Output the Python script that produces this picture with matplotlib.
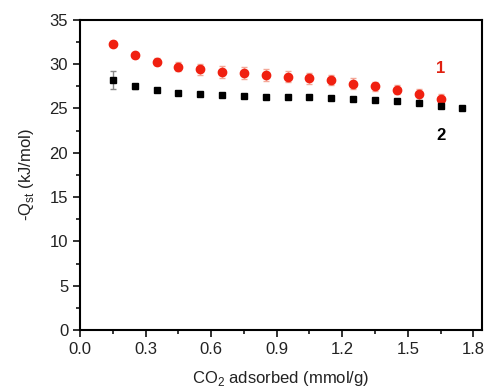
import matplotlib
matplotlib.use("Agg")
import matplotlib.pyplot as plt
from matplotlib.ticker import MultipleLocator

plt.rcParams['font.family'] = ['Liberation Sans', 'DejaVu Sans']
plt.rcParams['mathtext.fontset'] = 'custom'
plt.rcParams['mathtext.rm'] = 'Liberation Sans'

x1 = [0.15, 0.25, 0.35, 0.45, 0.55, 0.65, 0.75, 0.85, 0.95, 1.05, 1.15, 1.25, 1.35, 1.45, 1.55, 1.65]
y1 = [32.3, 31.0, 30.3, 29.7, 29.4, 29.1, 29.0, 28.8, 28.6, 28.4, 28.2, 27.8, 27.5, 27.1, 26.6, 26.05]
e1 = [0.3, 0.3, 0.4, 0.5, 0.6, 0.7, 0.7, 0.7, 0.6, 0.6, 0.6, 0.6, 0.5, 0.5, 0.6, 0.6]

x2 = [0.15, 0.25, 0.35, 0.45, 0.55, 0.65, 0.75, 0.85, 0.95, 1.05, 1.15, 1.25, 1.35, 1.45, 1.55, 1.65, 1.75]
y2 = [28.2, 27.5, 27.1, 26.8, 26.6, 26.5, 26.4, 26.3, 26.3, 26.3, 26.2, 26.1, 26.0, 25.9, 25.6, 25.3, 25.0]
e2 = [1.0, 0.3, 0.2, 0.2, 0.2, 0.2, 0.2, 0.2, 0.2, 0.2, 0.2, 0.2, 0.2, 0.2, 0.2, 0.2, 0.1]

xticks = [0.0, 0.3, 0.6, 0.9, 1.2, 1.5, 1.8]
xticklabels = ['0.0', '0.3', '0.6', '0.9', '1.2', '1.5', '1.8']

fig = plt.figure(figsize=(4.88, 3.90), dpi=100)
ax = fig.add_axes([0.164, 0.154, 0.824, 0.795])

ax.errorbar(x1, y1, yerr=e1, fmt='o', color='#f02010', ecolor='#f4a898',
            markersize=6, elinewidth=1, capsize=2.5, capthick=1)
ax.errorbar(x2, y2, yerr=e2, fmt='s', color='black', ecolor='#888888',
            markersize=5, elinewidth=1, capsize=2.5, capthick=1)

ax.text(1.65, 29.5, '1', color='#e02010', fontsize=12, fontweight='bold',
        ha='center', va='center')
ax.text(1.65, 21.9, '2', color='black', fontsize=12, fontweight='bold',
        ha='center', va='center')

ax.set_xlim(0, 1.84)
ax.set_ylim(0, 35)
ax.set_xticks(xticks)
ax.set_xticklabels(xticklabels)
ax.xaxis.set_minor_locator(MultipleLocator(0.15))
ax.yaxis.set_major_locator(MultipleLocator(5))
ax.yaxis.set_minor_locator(MultipleLocator(2.5))

ax.tick_params(which='major', direction='out', length=5, width=1.3, labelsize=12, colors='#222222')
ax.tick_params(which='minor', direction='out', length=3, width=1.1)
for s in ax.spines.values():
    s.set_linewidth(1.5)

ax.set_xlabel(r'CO$_\mathrm{2}$ adsorbed (mmol/g)', fontsize=12, color='#222222', labelpad=9)
ax.set_ylabel(r'-Q$_\mathrm{st}$ (kJ/mol)', fontsize=12, color='#222222', labelpad=10)

fig.savefig('out.png', dpi=100)
